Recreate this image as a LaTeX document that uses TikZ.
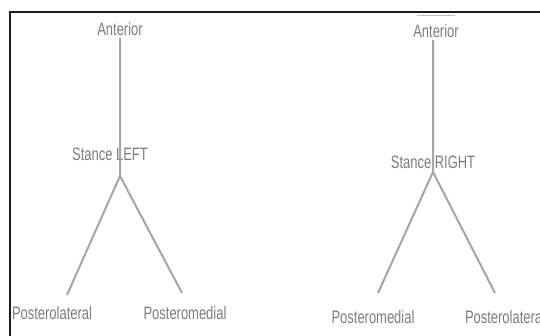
\documentclass[tikz,border=0pt]{standalone}
\usepackage{fontspec}
\setmainfont{Liberation Sans}[FakeStretch=0.72]
\definecolor{labelgray}{RGB}{125,125,125}
\definecolor{linegray}{RGB}{165,165,165}
\definecolor{framecol}{RGB}{30,26,20}

\begin{document}
\begin{tikzpicture}[x=1pt,y=-1pt,
    lbl/.style={font=\fontsize{18}{20}\selectfont, text=labelgray, inner sep=2pt},
    leg/.style={draw=linegray, line width=2pt}]
\useasboundingbox (0,0) rectangle (540,336);
\clip (0,0) rectangle (540,336);
% frame
\draw[framecol, line width=2.5pt] (541,12) -- (10,12) -- (10,337);
\draw[linegray!70, line width=1.5pt] (417,15.5) -- (455,15.5);
% stance LEFT
\node[lbl] (antL) at (120,29) {Anterior};
\node[lbl] (stanceL) at (110,154) {Stance LEFT};
\coordinate (apexL) at (120,176);
\coordinate (legLa) at (67,295);
\coordinate (legLb) at (182,293);
\node[lbl] (plL) at (52,313) {Posterolateral};
\node[lbl] (pmL) at (185,313) {Posteromedial};
\draw[leg] (antL.south) -- (apexL) -- (legLa);
\draw[leg] (apexL) -- (legLb);
% stance RIGHT
\node[lbl] (antR) at (436,31) {Anterior};
\node[lbl] (stanceR) at (433,162) {Stance RIGHT};
\coordinate (apexR) at (433,172);
\coordinate (legRa) at (378,293);
\coordinate (legRb) at (495,293);
\node[lbl] (pmR) at (373,317) {Posteromedial};
\node[lbl] (plR) at (505,317) {Posterolateral};
\draw[leg] (apexR |- antR.south) -- (apexR) -- (legRa);
\draw[leg] (apexR) -- (legRb);
\end{tikzpicture}
\end{document}
